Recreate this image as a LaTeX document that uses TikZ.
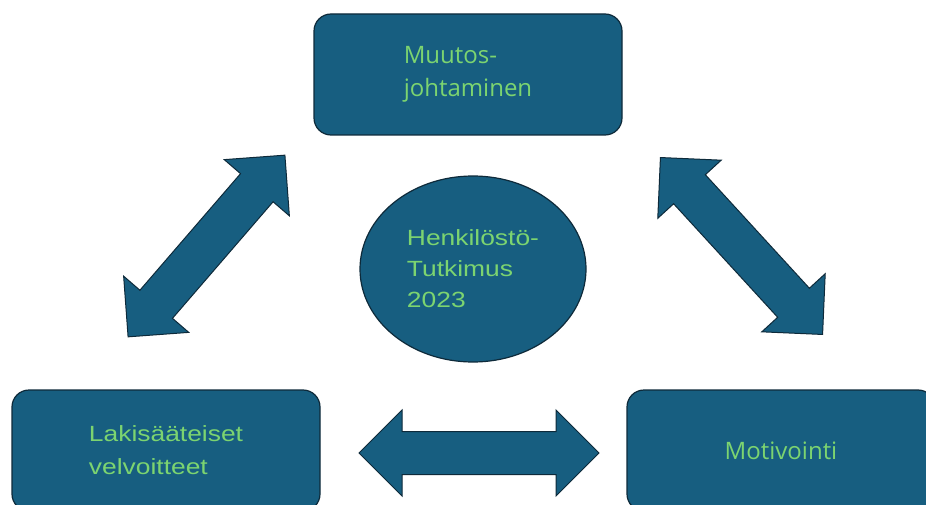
\documentclass[tikz,border=0pt]{standalone}
\usepackage{fontspec}
\setmainfont{Open Sans}
\newfontfamily\arialfont[FakeStretch=1.2]{Liberation Sans}
\usepackage{tikz}
\usetikzlibrary{shapes,arrows,positioning}

\definecolor{boxfill}{RGB}{23,94,128}
\definecolor{boxline}{RGB}{14,42,58}
\definecolor{boxtext}{RGB}{124,212,112}

\begin{document}
\begin{tikzpicture}[x=1pt, y=-1pt,
    box/.style={draw=boxline, line width=1.2pt, fill=boxfill, rounded corners=17pt,
        minimum width=308pt, minimum height=121pt, align=left, text=boxtext,
        font=\fontsize{24}{33}\selectfont},
    hub/.style={draw=boxline, line width=1.2pt, fill=boxfill, ellipse, inner sep=0pt,
        minimum width=226pt, minimum height=186pt, align=left, text=boxtext,
        font=\fontsize{22}{31}\selectfont\arialfont},
    darrow/.style={double arrow, draw=boxline, line width=1pt, fill=boxfill,
        minimum height=240pt, minimum width=85pt, inner xsep=0pt, inner ysep=21pt,
        double arrow head extend=21.5pt}
]
    \useasboundingbox (0,0) rectangle (926,505);
    \clip (0,0) rectangle (926,505);
    \node[box] (change) at (468,74.5) {Muutos-\\johtaminen};
    \node[box, font=\fontsize{22}{33}\selectfont\arialfont] (legal) at (166,450.5) {Lakisääteiset\\velvoitteet};
    \node[box] (motiv) at (781,450.5) {Motivointi};
    \node[hub] (survey) at (473,269) {Henkilöstö-\\Tutkimus\\2023};
    \node[darrow, rotate=49.2] (arrleft) at (206.5,246) {};
    \node[darrow, rotate=-47.5] (arrright) at (741.5,246) {};
    \node[darrow] (arrbottom) at (479,453) {};
\end{tikzpicture}
\end{document}
